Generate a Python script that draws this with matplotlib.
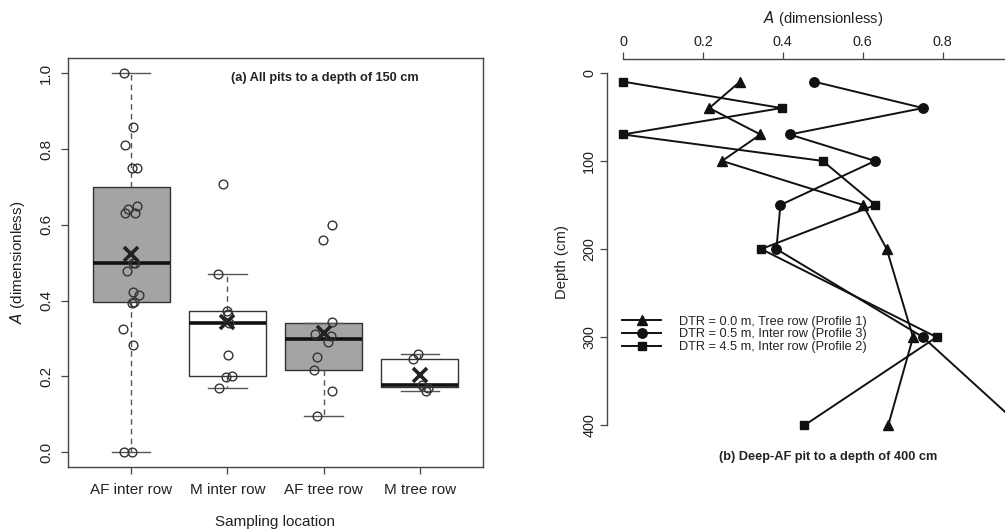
import matplotlib
matplotlib.use("Agg")
import matplotlib.pyplot as plt
import numpy as np

plt.rcParams["font.family"] = ["Liberation Sans", "DejaVu Sans"]
plt.rcParams["text.color"] = "#222222"
plt.rcParams["axes.labelcolor"] = "#222222"
plt.rcParams["xtick.color"] = "#444444"
plt.rcParams["ytick.color"] = "#444444"
plt.rcParams["xtick.labelcolor"] = "#222222"
plt.rcParams["ytick.labelcolor"] = "#222222"

# ---------------- panel (a): all pits to 150 cm ----------------
locations = ["AF inter row", "M inter row", "AF tree row", "M tree row"]
box_q1 = [0.396, 0.202, 0.216, 0.172]
box_median = [0.500, 0.342, 0.300, 0.177]
box_q3 = [0.700, 0.372, 0.342, 0.247]
whisker_low = [0.000, 0.170, 0.096, 0.162]
whisker_high = [1.000, 0.471, 0.342, 0.258]
group_means = [0.522, 0.343, 0.314, 0.203]
box_fill = ["#a4a4a4", "white", "#a4a4a4", "white"]

af_inter_vals = [1.0, 0.859, 0.812, 0.75, 0.75, 0.650, 0.643, 0.632, 0.632,
                 0.5, 0.5, 0.478, 0.424, 0.416, 0.397, 0.394, 0.324, 0.283,
                 0.0, 0.0]
af_inter_jit = [-0.073, 0.017, -0.062, 0.014, 0.059, 0.059, -0.035, -0.059,
                0.038, 0.017, 0.045, -0.038, 0.024, 0.087, 0.031, 0.010,
                -0.087, 0.017, -0.076, 0.007]
m_inter_vals = [0.708, 0.471, 0.372, 0.365, 0.342, 0.256, 0.201, 0.198, 0.170]
m_inter_jit = [-0.042, -0.094, -0.007, 0.010, 0.020, 0.010, 0.052, -0.017, -0.087]
af_tree_vals = [0.599, 0.560, 0.344, 0.311, 0.308, 0.291, 0.250, 0.216, 0.162, 0.096]
af_tree_jit = [0.085, -0.010, 0.085, -0.088, 0.075, 0.050, -0.065, -0.097, 0.083, -0.069]
m_tree_vals = [0.258, 0.247, 0.177, 0.170, 0.162]
m_tree_jit = [-0.014, -0.066, 0.020, 0.090, 0.062]

# ---------------- panel (b): deep pit to 400 cm ----------------
depth_cm = [10, 40, 70, 100, 150, 200, 300, 400]
a_profile1 = [0.293, 0.216, 0.344, 0.248, 0.601, 0.660, 0.726, 0.664]
a_profile3 = [0.478, 0.751, 0.417, 0.631, 0.394, 0.384, 0.751, 0.993]
a_profile2 = [0.000, 0.397, 0.000, 0.500, 0.632, 0.346, 0.785, 0.454]
profile_labels = ["DTR = 0.0 m, Tree row (Profile 1)",
                  "DTR = 0.5 m, Inter row (Profile 3)",
                  "DTR = 4.5 m, Inter row (Profile 2)"]

W, H = 1005, 529
fig = plt.figure(figsize=(W / 100, H / 100), dpi=100)


def axes_px(left, top, right, bottom):
    return fig.add_axes([left / W, 1 - bottom / H, (right - left) / W, (bottom - top) / H])


# ---- panel (a)
axa = axes_px(67.5, 58.3, 483.3, 467.3)
positions = np.arange(1, len(locations) + 1)
stats = []
for i in range(len(locations)):
    stats.append(dict(med=box_median[i], q1=box_q1[i], q3=box_q3[i],
                      whislo=whisker_low[i], whishi=whisker_high[i], fliers=[]))
bp = axa.bxp(stats, positions=positions, widths=0.8, capwidths=0.4,
             patch_artist=True, showfliers=False,
             boxprops=dict(edgecolor="#333333", linewidth=1.0),
             whiskerprops=dict(color="#555555", linewidth=1.0, linestyle=(0, (4, 3))),
             capprops=dict(color="#555555", linewidth=1.0),
             medianprops=dict(color="#111111", linewidth=2.6, solid_capstyle="butt"))
for patch, fc in zip(bp["boxes"], box_fill):
    patch.set_facecolor(fc)

for pos, vals, jit in zip(positions,
                          [af_inter_vals, m_inter_vals, af_tree_vals, m_tree_vals],
                          [af_inter_jit, m_inter_jit, af_tree_jit, m_tree_jit]):
    axa.plot(pos + np.array(jit), vals, "o", mfc="none", mec="#333333",
             ms=6.3, mew=1.0, zorder=4)
axa.plot(positions, group_means, "x", color="#222222", ms=10, mew=2.6, zorder=5)

axa.set_xlim(0.34, 4.66)
axa.set_ylim(-0.04, 1.04)
axa.set_xticks(positions)
axa.set_xticklabels(locations, fontsize=11)
yt = np.arange(0, 1.01, 0.2)
axa.set_yticks(yt)
axa.set_yticklabels([f"{v:.1f}" for v in yt], fontsize=11, rotation=90, va="center")
axa.tick_params(axis="both", length=5.2, width=0.9, direction="out")
axa.tick_params(axis="y", pad=5)
axa.tick_params(axis="x", pad=6)
for s in axa.spines.values():
    s.set_color("#444444")
    s.set_linewidth(1.0)
axa.set_xlabel("Sampling location", fontsize=11, labelpad=13)
axa.set_ylabel(r"$\it{A}$ (dimensionless)", fontsize=11)
axa.yaxis.set_label_coords(-0.098, 0.5)
axa.text(3.01, 0.987, "(a) All pits to a depth of 150 cm", fontsize=9.2,
         fontweight="bold", ha="center", va="center")

# ---- panel (b)
axb = axes_px(607.0, 58.7, 1038.5, 439.4)
l1, = axb.plot(a_profile1, depth_cm, "-^", color="#111111", lw=1.4, ms=7.8, clip_on=False)
l3, = axb.plot(a_profile3, depth_cm, "-o", color="#111111", lw=1.4, ms=6.8, clip_on=False)
l2, = axb.plot(a_profile2, depth_cm, "-s", color="#111111", lw=1.4, ms=5.8, clip_on=False)

axb.set_xlim(-0.04, 1.04)
axb.set_ylim(416, -16)
axb.xaxis.set_ticks_position("top")
axb.xaxis.set_label_position("top")
xt = [0, 0.2, 0.4, 0.6, 0.8, 1.0]
axb.set_xticks(xt)
axb.set_xticklabels(["0", "0.2", "0.4", "0.6", "0.8", "1"], fontsize=10.4)
axb.set_yticks([0, 100, 200, 300, 400])
axb.set_yticklabels(["0", "100", "200", "300", "400"], fontsize=10.4,
                    rotation=90, va="center")
axb.tick_params(axis="both", length=5.2, width=0.9, direction="out", pad=2.5)
axb.tick_params(axis="x", pad=1.5)
axb.spines["right"].set_visible(False)
axb.spines["bottom"].set_visible(False)
axb.spines["top"].set_bounds(0, 1)
axb.spines["left"].set_bounds(0, 400)
for k in ("top", "left"):
    axb.spines[k].set_color("#444444")
    axb.spines[k].set_linewidth(1.0)
axb.set_xlabel(r"$\it{A}$ (dimensionless)", fontsize=10.7, labelpad=9)
axb.set_ylabel("Depth (cm)", fontsize=10.7)
axb.yaxis.set_label_coords(-0.088, 0.466)
axb.text(0.513, 436, "(b) Deep-AF pit to a depth of 400 cm", fontsize=9.2,
         fontweight="bold", ha="center", va="center", clip_on=False)

axb.legend([l1, l3, l2], profile_labels, loc="upper left",
           bbox_to_anchor=(621.7 / W, 1 - 315.5 / H), bbox_transform=fig.transFigure,
           frameon=False, borderpad=0, borderaxespad=0, handlelength=3.1,
           handletextpad=1.4, labelspacing=0.07, fontsize=9.2)

fig.savefig("out.png", dpi=100)
